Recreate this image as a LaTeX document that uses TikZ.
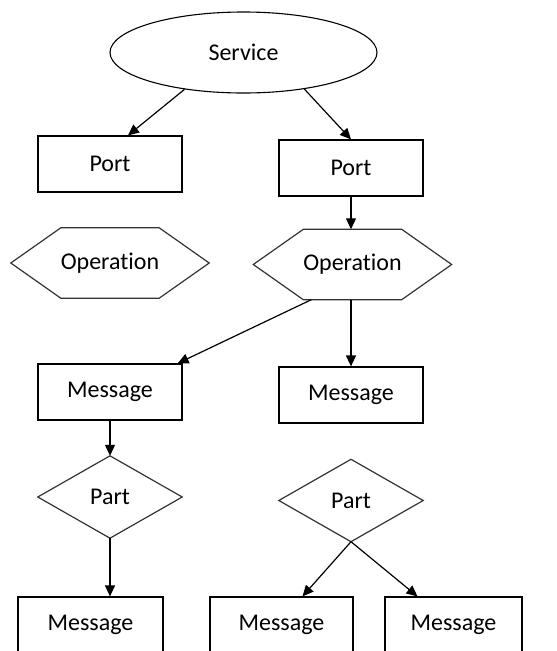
\documentclass[tikz,border=0pt]{standalone}
\usepackage{fontspec}
\setmainfont{Carlito}[Ligatures={NoCommon}]
\usetikzlibrary{shapes.geometric,arrows.meta,calc}
\begin{document}
\begin{tikzpicture}[x=1pt,y=-1pt,
  every node/.style={font=\fontsize{24}{28}\selectfont, inner sep=0pt},
  box/.style={draw, line width=1.2pt, minimum width=144pt, minimum height=56pt},
  plain/.style={minimum width=144pt, minimum height=82pt},
  shapeline/.style={line width=1.2pt, draw=black!80},
  arr/.style={-{Triangle[length=11pt,width=10pt]}, line width=1.2pt}]
\useasboundingbox (0,0) rectangle (557,651);
\clip (0,0) rectangle (557,651);
% nodes
\node[ellipse, draw, line width=1.1pt, minimum width=267pt, minimum height=81pt] (svc) at (243.5,52.5) {Service};
\node[box] (p1) at (110,164) {Port};
\node[box] (p2) at (351,168) {Port};
\node[minimum width=198pt, minimum height=70pt] (op1) at (110,263) {Operation};
\node[minimum width=198pt, minimum height=70pt] (op2) at (352.5,264.5) {Operation};
\node[box] (m1) at (110,392) {Message};
\node[box] (m2) at (351,395) {Message};
\node[plain] (pt1) at (110,497) {Part};
\node[plain] (pt2) at (351,500.5) {Part};
\node[box, minimum width=145pt] (m3) at (90.5,625) {Message};
\node[box, minimum width=143pt] (m4) at (281.5,625) {Message};
\node[box, minimum width=137pt] (m5) at (453.5,625) {Message};
% hexagons
\foreach \n in {op1,op2}{
  \draw[shapeline] ([xshift=50pt]\n.north west) -- ([xshift=-50pt]\n.north east) -- (\n.east)
    -- ([xshift=-50pt]\n.south east) -- ([xshift=50pt]\n.south west) -- (\n.west) -- cycle;
}
% diamonds
\foreach \n in {pt1,pt2}{
  \draw[shapeline] (\n.north) -- (\n.east) -- (\n.south) -- (\n.west) -- cycle;
}
% connectors
\draw[arr] (svc.212) -- ([xshift=18pt]p1.north);
\draw[arr] (svc.329) -- (p2.north);
\draw[arr] (p2.south) -- (p2.south |- op2.north);
\draw[arr] ([xshift=58pt]op2.south west) -- ([xshift=-5pt]m1.north east);
\draw[arr] (op2.south -| p2.south) -- (m2.north);
\draw[arr] (m1.south) -- (pt1.north);
\draw[arr] (pt1.south) -- (pt1.south |- m3.north);
\draw[arr] (pt2.south) -- ([xshift=21pt]m4.north);
\draw[arr] (pt2.south) -- ([xshift=-36pt]m5.north);
\end{tikzpicture}
\end{document}
